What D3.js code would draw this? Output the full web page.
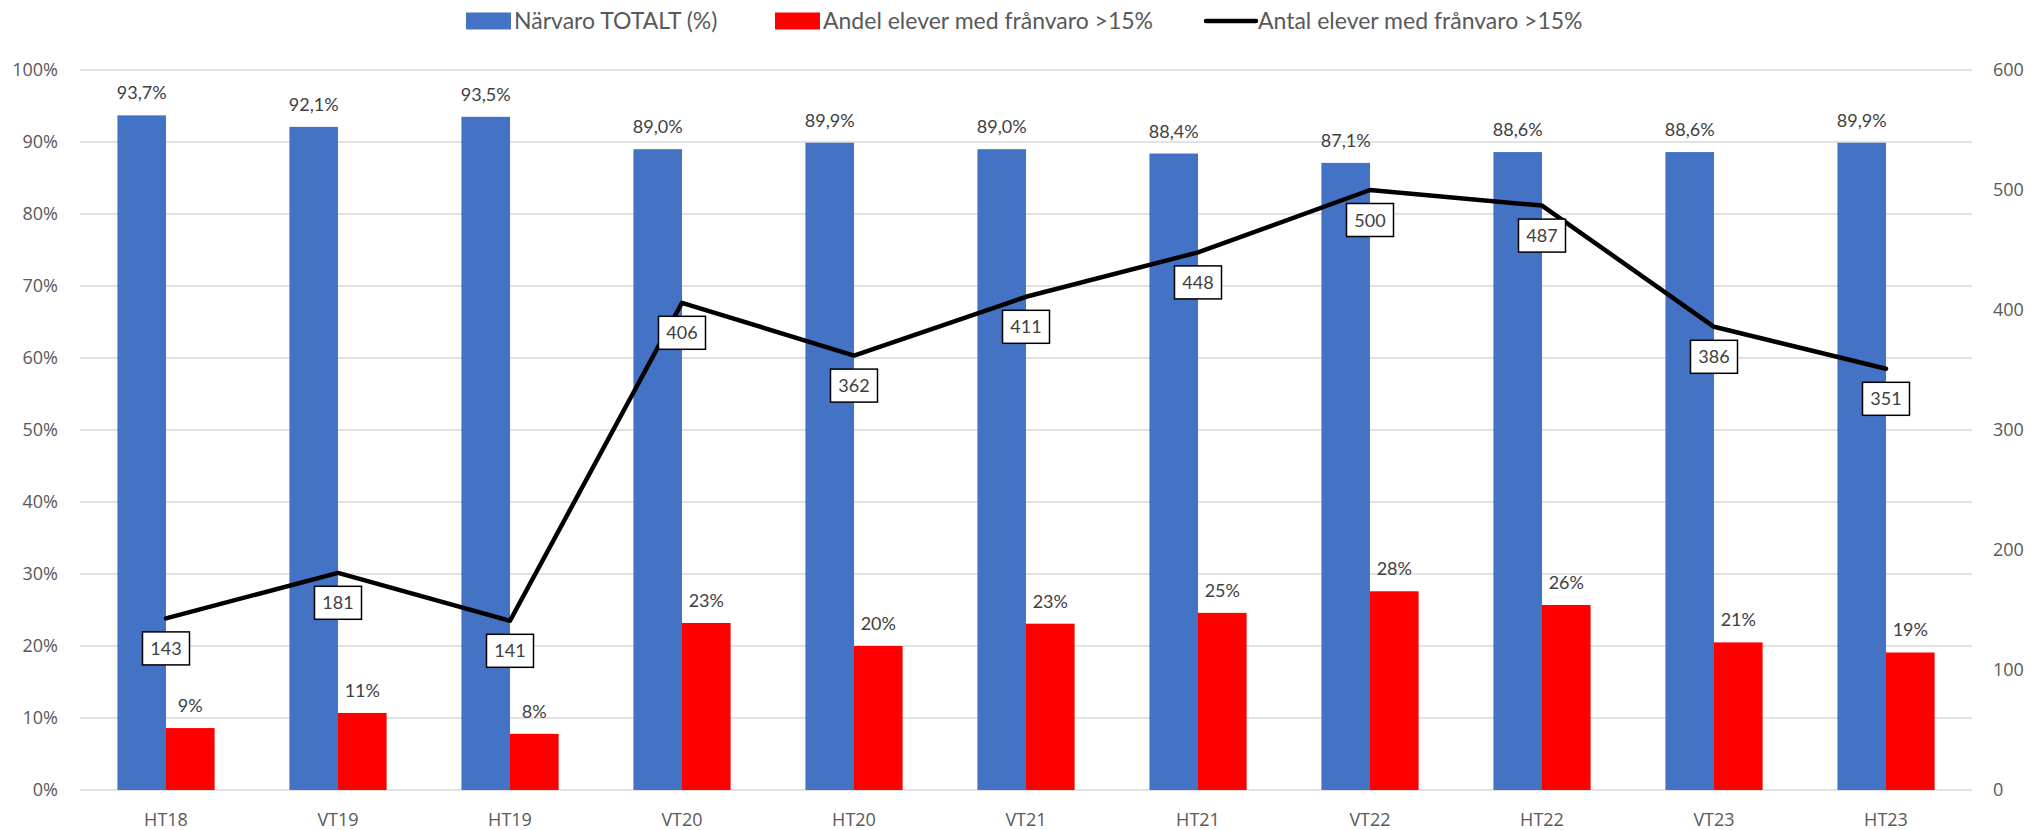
<!DOCTYPE html>
<html>
<head>
<meta charset="utf-8">
<script src="https://cdn.jsdelivr.net/npm/d3@7"></script>
<style>
  html, body { margin: 0; padding: 0; background: #fff; }
  svg { display: block; }
  .tick line { display: none; }
  .domain { display: none; }
</style>
</head>
<body>
<svg id="chart" width="2029" height="830"></svg>
<script>
const categories = ["HT18","VT19","HT19","VT20","HT20","VT21","HT21","VT22","HT22","VT23","HT23"];
const narvaro = [93.7, 92.1, 93.5, 89.0, 89.9, 89.0, 88.4, 87.1, 88.6, 88.6, 89.9];
const andel = [8.6, 10.7, 7.8, 23.2, 20.0, 23.1, 24.6, 27.6, 25.7, 20.5, 19.1];
const antal = [143, 181, 141, 406, 362, 411, 448, 500, 487, 386, 351];
const leftTicks = [0, 10, 20, 30, 40, 50, 60, 70, 80, 90, 100];
const rightTicks = [0, 100, 200, 300, 400, 500, 600];
const legendLabels = ["Närvaro TOTALT (%)", "Andel elever med frånvaro >15%", "Antal elever med frånvaro >15%"];

const svg = d3.select("#chart");
const pLeft = 80, pRight = 1972, pTop = 70, pBottom = 790;

const x = d3.scaleBand().domain(categories).range([pLeft, pRight]).paddingInner(0.435).paddingOuter(0.2175);
const x1 = d3.scaleBand().domain(["n", "a"]).range([0, x.bandwidth()]);
const yL = d3.scaleLinear().domain([0, 100]).range([pBottom, pTop]);
const yR = d3.scaleLinear().domain([0, 600]).range([pBottom, pTop]);

const tickFont = "'Open Sans', sans-serif";
const labelFont = "Lato, 'Noto Sans', sans-serif";

// gridlines
svg.append("g").selectAll("line").data(leftTicks).join("line")
  .attr("x1", pLeft).attr("x2", pRight)
  .attr("y1", d => yL(d)).attr("y2", d => yL(d))
  .attr("stroke", "#d9d9d9").attr("stroke-width", 1.5);

// left axis
const gL = svg.append("g").attr("transform", `translate(${pLeft - 22},0)`)
  .call(d3.axisLeft(yL).tickValues(leftTicks).tickSize(0).tickPadding(0).tickFormat(d => d + "%"));
gL.selectAll("text").attr("font-family", tickFont).attr("font-size", 18).attr("fill", "#595959");

// right axis
const gR = svg.append("g").attr("transform", `translate(${pRight + 21},0)`)
  .call(d3.axisRight(yR).tickValues(rightTicks).tickSize(0).tickPadding(0));
gR.selectAll("text").attr("font-family", tickFont).attr("font-size", 18).attr("fill", "#595959");

// x axis labels
const gX = svg.append("g").attr("transform", `translate(0,${pBottom})`)
  .call(d3.axisBottom(x).tickSize(0).tickPadding(0));
gX.selectAll("text").attr("font-family", tickFont).attr("font-size", 18).attr("fill", "#595959")
  .attr("dy", null).attr("y", 35.5);

// bars
const groups = svg.append("g").selectAll("g").data(categories).join("g")
  .attr("transform", d => `translate(${x(d)},0)`);

groups.append("rect")
  .attr("x", x1("n")).attr("width", x1.bandwidth())
  .attr("y", (d, i) => yL(narvaro[i])).attr("height", (d, i) => pBottom - yL(narvaro[i]))
  .attr("fill", "#4472C4");
groups.append("rect")
  .attr("x", x1("a")).attr("width", x1.bandwidth())
  .attr("y", (d, i) => yL(andel[i])).attr("height", (d, i) => pBottom - yL(andel[i]))
  .attr("fill", "#FF0000");

// bar labels
groups.append("text")
  .attr("x", x1("n") + x1.bandwidth() / 2).attr("y", (d, i) => yL(narvaro[i]) - 16)
  .attr("text-anchor", "middle").attr("font-family", labelFont).attr("font-size", 18).attr("fill", "#404040")
  .text((d, i) => d3.format(".1f")(narvaro[i]).replace(".", ",") + "%");
groups.append("text")
  .attr("x", x1("a") + x1.bandwidth() / 2).attr("y", (d, i) => yL(andel[i]) - 16)
  .attr("text-anchor", "middle").attr("font-family", labelFont).attr("font-size", 18).attr("fill", "#404040")
  .text((d, i) => Math.round(andel[i]) + "%");

// line
const cx = d => x(d) + x.bandwidth() / 2;
const line = d3.line().x((v, i) => cx(categories[i])).y(v => yR(v));
svg.append("path").datum(antal).attr("d", line)
  .attr("fill", "none").attr("stroke", "#000").attr("stroke-width", 4.5)
  .attr("stroke-linejoin", "round").attr("stroke-linecap", "round");

// line labels
const lbl = svg.append("g").selectAll("g").data(antal).join("g")
  .attr("transform", (v, i) => `translate(${cx(categories[i])},${yR(v) + 30})`);
lbl.append("rect").attr("x", -23.5).attr("y", -16.5).attr("width", 47).attr("height", 33)
  .attr("fill", "#fff").attr("stroke", "#000").attr("stroke-width", 1.5);
lbl.append("text").attr("text-anchor", "middle").attr("y", 6.5)
  .attr("font-family", labelFont).attr("font-size", 18).attr("fill", "#404040")
  .text(v => v);

// legend
const legend = svg.append("g");
const legX = [466, 775, 1206];
legendLabels.forEach((t, i) => {
  const g = legend.append("g").attr("transform", `translate(${legX[i]},21)`);
  if (i < 2) {
    g.append("rect").attr("x", 0).attr("y", -8.5).attr("width", 45).attr("height", 17)
      .attr("fill", i === 0 ? "#4472C4" : "#FF0000");
    g.append("text").attr("x", 48).attr("y", 8).attr("font-family", labelFont).attr("font-size", 23)
      .attr("fill", "#595959").text(t);
  } else {
    g.append("line").attr("x1", 0).attr("x2", 50).attr("y1", 0).attr("y2", 0)
      .attr("stroke", "#000").attr("stroke-width", 4.5).attr("stroke-linecap", "round");
    g.append("text").attr("x", 52).attr("y", 8).attr("font-family", labelFont).attr("font-size", 23)
      .attr("fill", "#595959").text(t);
  }
});
</script>
</body>
</html>
